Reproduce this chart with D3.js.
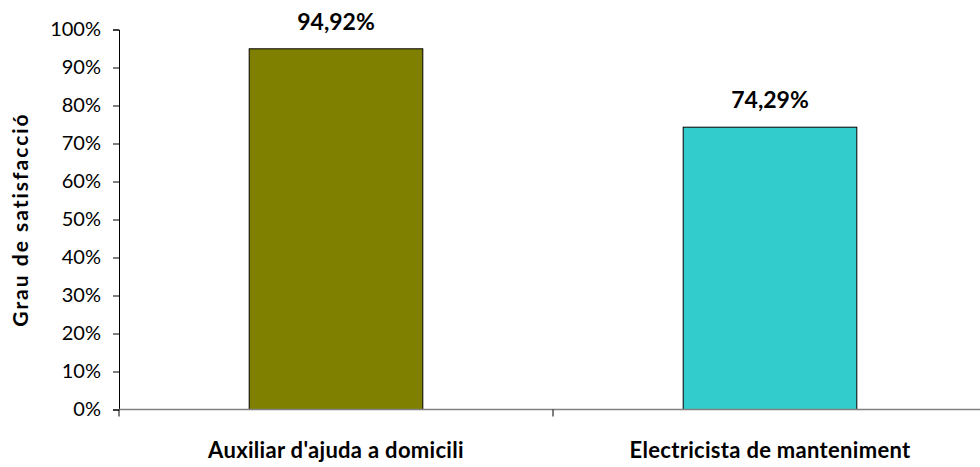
<!DOCTYPE html>
<html><head><meta charset="utf-8">
<script src="https://cdn.jsdelivr.net/npm/d3@7"></script>
<style>body{margin:0;background:#fff}svg{display:block}</style>
</head><body>
<script>
const categories = ["Auxiliar d'ajuda a domicili", "Electricista de manteniment"];
const values = [0.9492, 0.7429];
const valueLabels = ["94,92%", "74,29%"];
const colors = ["#808000", "#33CCCC"];
const yTicks = [0,0.1,0.2,0.3,0.4,0.5,0.6,0.7,0.8,0.9,1.0];
const yTitle = "Grau de satisfacció";

(function(){
const W = 980, H = 467;
const mLeft = 119, mRight = 987, mTop = 29.5, mBottom = 409.5;
const svg = d3.select("body").append("svg").attr("width", W).attr("height", H);
const font = "Lato, 'Open Sans', sans-serif";

const y = d3.scaleLinear().domain([0,1]).range([mBottom, mTop]);
const xCat = d3.scaleBand().domain(categories).range([mLeft, mRight]).padding(0);
const x = d3.scaleBand().domain(categories).range([mLeft, mRight]).paddingInner(0.6).paddingOuter(0.3);

svg.selectAll("rect.bar").data(categories).enter().append("rect")
  .attr("x", d => x(d)).attr("width", x.bandwidth())
  .attr("y", (d,i) => y(values[i])).attr("height", (d,i) => mBottom - y(values[i]))
  .attr("fill", (d,i) => colors[i]).attr("stroke", "#000").attr("stroke-width", 1);

const yAxis = d3.axisLeft(y).tickValues(yTicks).tickFormat(d3.format(".0%")).tickSizeOuter(0).tickSize(6).tickPadding(12);
const gy = svg.append("g").attr("transform", `translate(${mLeft},0)`).call(yAxis);
gy.select(".domain").attr("stroke", "#000");
gy.selectAll(".tick line").attr("stroke", "#000");
gy.selectAll("text").attr("font-family", font).attr("font-size", 20).attr("fill", "#000");

svg.append("line").attr("x1", mLeft).attr("x2", W).attr("y1", mBottom).attr("y2", mBottom)
  .attr("stroke", "#808080").attr("stroke-width", 1.5);
svg.selectAll("line.xt").data(categories.slice(1)).enter().append("line")
  .attr("x1", d => xCat(d)).attr("x2", d => xCat(d)).attr("y1", mBottom).attr("y2", mBottom + 7)
  .attr("stroke", "#000");
svg.append("line").attr("x1", mLeft).attr("x2", mLeft).attr("y1", mBottom).attr("y2", mBottom + 7).attr("stroke", "#000");

svg.selectAll("text.cat").data(categories).enter().append("text")
  .attr("x", d => x(d) + x.bandwidth()/2).attr("y", 458)
  .attr("text-anchor", "middle").attr("font-family", font).attr("font-weight", "bold")
  .attr("font-size", 22).attr("letter-spacing", 0.3).text(d => d);

svg.selectAll("text.val").data(categories).enter().append("text")
  .attr("x", d => x(d) + x.bandwidth()/2).attr("y", (d,i) => y(values[i]) - 19)
  .attr("text-anchor", "middle").attr("font-family", font).attr("font-weight", "bold")
  .attr("font-size", 23).text((d,i) => valueLabels[i]);

svg.append("text").attr("transform", `translate(28,${(mTop+mBottom)/2}) rotate(-90)`)
  .attr("text-anchor", "middle").attr("font-family", font).attr("font-weight", "bold")
  .attr("font-size", 21).attr("letter-spacing", 2).text(yTitle);
})();
</script>
</body></html>
